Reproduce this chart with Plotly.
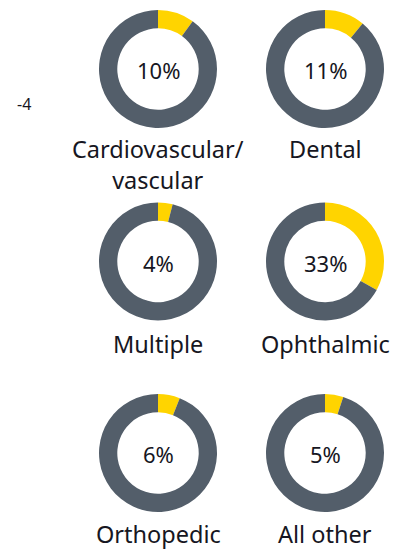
import plotly.graph_objects as go

categories = ["Cardiovascular/<br>vascular", "Dental", "Multiple", "Ophthalmic", "Orthopedic", "All other"]
shares = [10, 11, 4, 33, 6, 5]
pct_labels = ["10%", "11%", "4%", "33%", "6%", "5%"]

# page body has an 8px margin; lay out in page pixels and shift
OFF = 8
W, H = 404 - OFF, 550 - OFF
YELLOW = "#FFD400"
GRAY = "#535E6A"
TEXT = "#161622"
FONT = "Noto Sans"

centers_x = [158 - OFF, 325 - OFF]
centers_y = [69 - OFF, 261.5 - OFF, 453 - OFF]
R = 59
label_top = [132 - OFF, 327 - OFF, 517 - OFF]

fig = go.Figure()
ann = []
for i, (cat, v, p) in enumerate(zip(categories, shares, pct_labels)):
    row, col = divmod(i, 2)
    cx, cy = centers_x[col], centers_y[row]
    fig.add_trace(go.Pie(
        values=[v, 100 - v],
        marker=dict(colors=[YELLOW, GRAY], line=dict(width=0)),
        hole=0.69,
        sort=False,
        direction="clockwise",
        rotation=0,
        textinfo="none",
        hoverinfo="skip",
        showlegend=False,
        domain=dict(x=[(cx - R) / W, (cx + R) / W], y=[1 - (cy + R) / H, 1 - (cy - R) / H]),
    ))
    ann.append(dict(x=cx / W, y=1 - (cy + 1) / H, xref="paper", yref="paper", text=p, showarrow=False,
                    xanchor="center", yanchor="middle", font=dict(size=22, color=TEXT, family=FONT)))
    ann.append(dict(x=cx / W, y=1 - label_top[row] / H, xref="paper", yref="paper", text=cat, showarrow=False,
                    xanchor="center", yanchor="top", borderpad=0, font=dict(size=23.5, color=TEXT, family=FONT)))

ann.append(dict(x=(24 - OFF) / W, y=1 - (104 - OFF) / H, xref="paper", yref="paper", text="-4", showarrow=False,
                xanchor="center", yanchor="middle", font=dict(size=16, color=TEXT, family=FONT)))

fig.update_layout(width=W, height=H, margin=dict(l=0, r=0, t=0, b=0),
                  paper_bgcolor="white", plot_bgcolor="white", annotations=ann)
fig.write_html("out.html")
